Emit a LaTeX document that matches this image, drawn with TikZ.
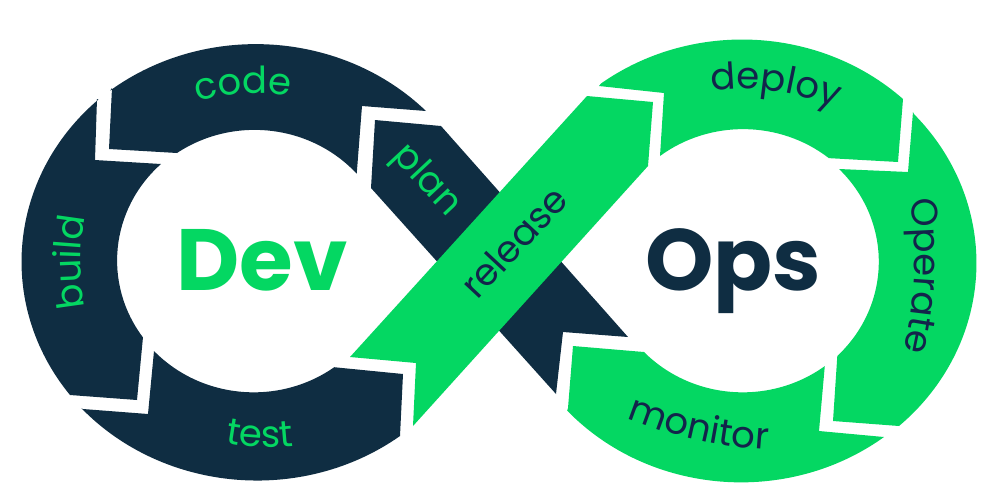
\documentclass[tikz,border=0pt]{standalone}
\usepackage{fontspec}
\usetikzlibrary{decorations.text}
\newfontfamily\lab{Poppins}
\newfontfamily\bigw[BoldFont={Poppins Bold}]{Poppins}
\definecolor{navy}{HTML}{0F2D42}
\definecolor{navytext}{HTML}{13244B}
\definecolor{grn}{HTML}{04D762}
\newcommand{\curvlab}[7]{\path[shift={(#1,#2)},rotate=#3,decorate,decoration={text along path,text align=center,text={|\lab\fontsize{18.5pt}{22pt}\selectfont\color{#6}|#7}}] (-#4,0) to[#5] (#4,0);}
\tikzset{
  bigword/.style={font=\bigw\bfseries\fontsize{43.5pt}{50pt}\selectfont,anchor=base,inner sep=0pt},
  straightlab/.style={font=\lab\fontsize{18.5pt}{22pt}\selectfont,inner sep=0pt},
}
\begin{document}
\begin{tikzpicture}[x=0.5pt,y=-0.5pt]
\useasboundingbox (0,0) rectangle (1000,500);
% left loop
\fill[navy] (112,88) -- (109,149) -- (177,153) arc[start angle=235.5,end angle=318.2,x radius=137,y radius=131.5] -- (362,106) -- (426,111) arc[start angle=315.9,end angle=232.1,x radius=237,y radius=220] -- cycle;
\fill[navy] (97,99) -- (95,160) -- (161,164) arc[start angle=227.2,end angle=144.2,x radius=137,y radius=131.5] -- (137,400) -- (70,395) arc[start angle=142.7,end angle=227.5,x radius=237,y radius=220] -- cycle;
\fill[navy] (83,409) -- (148,414) -- (154,351) arc[start angle=136.7,end angle=54,x radius=137,y radius=131.5] -- (403,374) -- (400,436) arc[start angle=52.9,end angle=137.8,x radius=237,y radius=220] -- cycle;
% plan band
\fill[navy] (375,120) -- (441,126) -- (628,337) -- (563,332) -- (556,394) -- (371,188) -- cycle;
% release
\fill[grn] (350,357) -- (416,363) -- (413,426) -- (648,166) -- (653,102) -- (587,96) -- cycle;
% right loop
\fill[grn] (599,86) -- (664,93) -- (660,156) arc[start angle=232.7,end angle=308.8,x radius=137,y radius=131.5] -- (898,162) -- (903,99) arc[start angle=313.2,end angle=233.1,x radius=235,y radius=219.5] -- cycle;
\fill[grn] (913,112) -- (908,172) -- (839,169) arc[start angle=-44.8,end angle=45.8,x radius=137,y radius=131.5] -- (833,421) -- (899,426) arc[start angle=47.9,end angle=-42.8,x radius=235,y radius=219.5] -- cycle;
\fill[grn] (573,346) -- (644,352) arc[start angle=136.1,end angle=53.2,x radius=137,y radius=131.5] -- (819,431) -- (884,437) arc[start angle=52.5,end angle=137.7,x radius=235,y radius=219.5] -- (568,408) -- cycle;
% big words
\node[bigword,text=grn] (dev) at (262,290) {Dev};
\node[bigword,text=navy] (ops) at (733,290) {Ops};
% labels
\node[straightlab,text=grn,rotate=-47] (plan) at (426,181) {plan};
\node[straightlab,text=navytext,rotate=47] (release) at (514,242) {release};
\curvlab{244}{102}{4}{60}{bend left=14}{grn}{code}
\curvlab{88}{262}{90}{60}{bend left=12}{grn}{build}
\curvlab{260}{440}{-2}{60}{bend right=12}{grn}{test}
\curvlab{773}{104}{-8}{80}{bend left=16}{navytext}{deploy}
\curvlab{902}{275}{-92.6}{100}{bend left=12}{navytext}{Operate}
\curvlab{698}{431}{-12.8}{90}{bend right=10}{navytext}{monitor}
\end{tikzpicture}
\end{document}
